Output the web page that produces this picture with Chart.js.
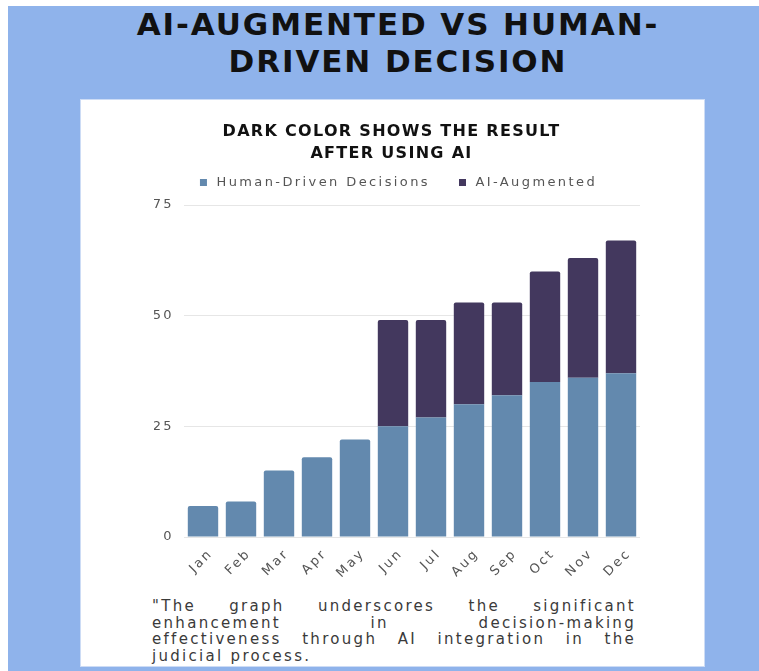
<!DOCTYPE html>
<html>
<head>
<meta charset="utf-8">
<script src="https://cdn.jsdelivr.net/npm/chart.js@4.4.1/dist/chart.umd.min.js"></script>
<style>
  html, body { margin: 0; padding: 0; width: 759px; height: 671px; overflow: hidden; background: #ffffff; }
  #bg { position: absolute; left: 8px; top: 6px; width: 751px; height: 665px; background: #8fb3eb; }
  #title { position: absolute; left: 0; top: 6px; width: 796px; text-align: center;
           font-family: "DejaVu Sans", sans-serif; font-weight: bold; font-size: 31px;
           line-height: 37px; letter-spacing: 1.9px; color: #111; }
  #panel { position: absolute; left: 80px; top: 99px; width: 623px; height: 566px;
           background: #ffffff; border: 1px solid #cddcf5; }
  #sub { position: absolute; left: 80px; top: 120px; width: 623px; text-align: center;
         font-family: "DejaVu Sans", sans-serif; font-weight: bold; font-size: 16px;
         line-height: 22px; letter-spacing: 1.3px; color: #111; }
  #chartWrap { position: absolute; left: 80px; top: 99px; width: 625px; height: 495px; }
  #quote { position: absolute; left: 152px; top: 598px; width: 484px;
           font-family: "DejaVu Sans", sans-serif; font-size: 15px; line-height: 16.5px;
           letter-spacing: 2.3px; color: #3a3a3a; }
  #quote .j { text-align: justify; text-align-last: justify; }
</style>
</head>
<body>
<div id="bg"></div>
<div id="title">AI-AUGMENTED VS HUMAN-<br>DRIVEN DECISION</div>
<div id="panel"></div>
<div id="chartWrap"><canvas id="c" width="625" height="495"></canvas></div>
<div id="sub">DARK COLOR SHOWS THE RESULT<br>AFTER USING AI</div>
<div id="quote">
  <div class="j">"The graph underscores the significant</div>
  <div class="j">enhancement in decision-making</div>
  <div class="j">effectiveness through AI integration in the</div>
  <div>judicial process.</div>
</div>
<script>
const months = ['Jan','Feb','Mar','Apr','May','Jun','Jul','Aug','Sep','Oct','Nov','Dec'];
const humanDriven = [7, 8, 15, 18, 22, 25, 27, 30, 32, 35, 36, 37];
const aiAugmented = [null, null, null, null, null, 24, 22, 23, 21, 25, 27, 30];
const seriesNames = ['Human-Driven Decisions', 'AI-Augmented'];
const yMin = 0, yMax = 75, yStep = 25;

const SPACING = '2.4px';
const spacingPlugin = {
  id: 'spacing',
  beforeInit(chart) {
    chart.ctx.letterSpacing = SPACING;
    const lg = chart.legend;
    if (lg) {
      const fit = lg.fit;
      lg.fit = function () { fit.call(this); this.height = 55; };
    }
  },
  beforeUpdate(chart) { chart.ctx.letterSpacing = SPACING; },
  beforeDraw(chart) { chart.ctx.letterSpacing = SPACING; }
};

new Chart(document.getElementById('c'), {
  type: 'bar',
  data: {
    labels: months,
    datasets: [
      { label: seriesNames[0], data: humanDriven, backgroundColor: '#6389ae', borderWidth: 0, borderRadius: 2,
        barPercentage: 0.8, categoryPercentage: 1 },
      { label: seriesNames[1], data: aiAugmented, backgroundColor: '#43385e', borderWidth: 0, borderRadius: 2,
        barPercentage: 0.8, categoryPercentage: 1 }
    ]
  },
  options: {
    responsive: false,
    animation: false,
    devicePixelRatio: 1,
    layout: { padding: { left: 74, right: 65, top: 51, bottom: 0 } },
    plugins: {
      title: { display: false },
      tooltip: { enabled: false },
      legend: {
        position: 'top',
        labels: {
          usePointStyle: true, pointStyle: 'rect', boxWidth: 13, boxHeight: 7,
          padding: 26, color: '#555',
          font: { family: 'DejaVu Sans', size: 13 }
        }
      }
    },
    scales: {
      x: {
        stacked: true,
        grid: { display: false, drawTicks: false },
        border: { display: false },
        ticks: { color: '#555', font: { family: 'DejaVu Sans', size: 13 },
                 minRotation: 45, maxRotation: 45, labelOffset: 8, padding: 9 },
        afterFit(scale) { scale.height = 57; }
      },
      y: {
        stacked: true,
        min: yMin, max: yMax,
        grid: { color: '#e6e6e6', drawTicks: false, lineWidth: 1 },
        border: { display: false },
        ticks: { stepSize: yStep, color: '#555', padding: 10, font: { family: 'DejaVu Sans', size: 13 } },
        afterFit(scale) { scale.width = 30; }
      }
    }
  },
  plugins: [spacingPlugin]
});
</script>
</body>
</html>
